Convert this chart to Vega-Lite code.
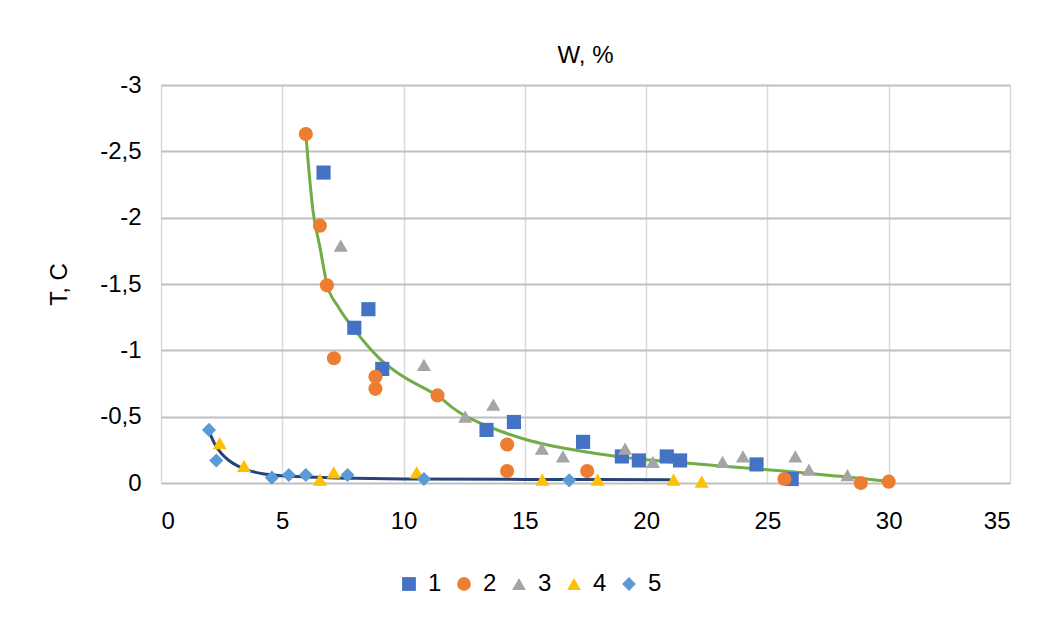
{
  "$schema": "https://vega.github.io/schema/vega-lite/v6.json",
  "width": 849,
  "height": 398,
  "autosize": {"type": "none"},
  "padding": {"left": 161, "top": 85, "right": 29, "bottom": 134},
  "background": "white",
  "config": {
    "font": "Liberation Sans",
    "view": {"stroke": null},
    "axis": {"labelFont": "Liberation Sans", "titleFont": "Liberation Sans", "labelColor": "#000000", "titleColor": "#000000", "titleFontWeight": "normal"}
  },
  "datasets": {
    "points": [
      {"series": "1", "w": 6.7, "t": -2.34},
      {"series": "1", "w": 8.55, "t": -1.31},
      {"series": "1", "w": 7.97, "t": -1.17},
      {"series": "1", "w": 9.12, "t": -0.86},
      {"series": "1", "w": 13.42, "t": -0.4},
      {"series": "1", "w": 14.55, "t": -0.46},
      {"series": "1", "w": 17.4, "t": -0.31},
      {"series": "1", "w": 19.0, "t": -0.2},
      {"series": "1", "w": 19.7, "t": -0.17},
      {"series": "1", "w": 20.85, "t": -0.2},
      {"series": "1", "w": 21.4, "t": -0.17},
      {"series": "1", "w": 24.55, "t": -0.14},
      {"series": "1", "w": 26.0, "t": -0.03},
      {"series": "2", "w": 5.97, "t": -2.63},
      {"series": "2", "w": 6.55, "t": -1.94},
      {"series": "2", "w": 6.84, "t": -1.49},
      {"series": "2", "w": 7.13, "t": -0.94},
      {"series": "2", "w": 8.84, "t": -0.8},
      {"series": "2", "w": 8.84, "t": -0.71},
      {"series": "2", "w": 11.4, "t": -0.66},
      {"series": "2", "w": 14.27, "t": -0.29},
      {"series": "2", "w": 14.27, "t": -0.09},
      {"series": "2", "w": 17.57, "t": -0.09},
      {"series": "2", "w": 25.7, "t": -0.03},
      {"series": "2", "w": 28.85, "t": 0.0},
      {"series": "2", "w": 30.0, "t": -0.01},
      {"series": "3", "w": 7.41, "t": -1.79},
      {"series": "3", "w": 10.84, "t": -0.89},
      {"series": "3", "w": 12.54, "t": -0.5},
      {"series": "3", "w": 13.7, "t": -0.59},
      {"series": "3", "w": 15.7, "t": -0.26},
      {"series": "3", "w": 16.57, "t": -0.2},
      {"series": "3", "w": 19.13, "t": -0.26},
      {"series": "3", "w": 20.28, "t": -0.16},
      {"series": "3", "w": 23.15, "t": -0.16},
      {"series": "3", "w": 23.99, "t": -0.2},
      {"series": "3", "w": 26.15, "t": -0.2},
      {"series": "3", "w": 26.71, "t": -0.1},
      {"series": "3", "w": 28.3, "t": -0.06},
      {"series": "4", "w": 2.42, "t": -0.3},
      {"series": "4", "w": 3.42, "t": -0.13},
      {"series": "4", "w": 6.55, "t": -0.025},
      {"series": "4", "w": 7.12, "t": -0.08},
      {"series": "4", "w": 10.54, "t": -0.08},
      {"series": "4", "w": 15.72, "t": -0.025},
      {"series": "4", "w": 18.0, "t": -0.025},
      {"series": "4", "w": 21.13, "t": -0.025},
      {"series": "4", "w": 22.29, "t": -0.01},
      {"series": "5", "w": 1.98, "t": -0.4},
      {"series": "5", "w": 2.28, "t": -0.17},
      {"series": "5", "w": 4.57, "t": -0.04},
      {"series": "5", "w": 5.27, "t": -0.06},
      {"series": "5", "w": 5.97, "t": -0.06},
      {"series": "5", "w": 7.69, "t": -0.06},
      {"series": "5", "w": 10.84, "t": -0.03},
      {"series": "5", "w": 16.83, "t": -0.02}
    ],
    "green": [
      {"w": 5.97, "t": -2.63},
      {"w": 6.1, "t": -2.35},
      {"w": 6.26, "t": -2.06},
      {"w": 6.55, "t": -1.78},
      {"w": 6.84, "t": -1.5},
      {"w": 7.3, "t": -1.33},
      {"w": 8.0, "t": -1.15},
      {"w": 9.0, "t": -0.94},
      {"w": 10.0, "t": -0.8},
      {"w": 11.0, "t": -0.7},
      {"w": 11.4, "t": -0.66},
      {"w": 12.0, "t": -0.57},
      {"w": 12.5, "t": -0.51},
      {"w": 13.0, "t": -0.465},
      {"w": 14.0, "t": -0.39},
      {"w": 15.0, "t": -0.33},
      {"w": 16.0, "t": -0.285},
      {"w": 17.0, "t": -0.25},
      {"w": 18.0, "t": -0.22},
      {"w": 19.0, "t": -0.195},
      {"w": 20.0, "t": -0.176},
      {"w": 22.0, "t": -0.145},
      {"w": 24.0, "t": -0.115},
      {"w": 25.0, "t": -0.1},
      {"w": 26.0, "t": -0.085},
      {"w": 28.0, "t": -0.05},
      {"w": 30.0, "t": -0.012}
    ],
    "navy": [
      {"w": 2.0, "t": -0.38},
      {"w": 2.2, "t": -0.3},
      {"w": 2.5, "t": -0.22},
      {"w": 2.8, "t": -0.17},
      {"w": 3.2, "t": -0.125},
      {"w": 3.6, "t": -0.095},
      {"w": 4.2, "t": -0.07},
      {"w": 5.0, "t": -0.055},
      {"w": 6.0, "t": -0.045},
      {"w": 8.0, "t": -0.035},
      {"w": 10.0, "t": -0.03},
      {"w": 15.0, "t": -0.027},
      {"w": 21.0, "t": -0.025}
    ]
  },
  "layer": [
    {
      "data": {"name": "green"},
      "mark": {"type": "line", "color": "#70AD47", "strokeWidth": 3, "interpolate": "monotone"},
      "encoding": {
        "x": {"field": "w", "type": "quantitative", "scale": {"domain": [0, 35], "nice": false}},
        "y": {"field": "t", "type": "quantitative", "scale": {"domain": [-3, 0], "reverse": true, "nice": false}}
      }
    },
    {
      "data": {"name": "navy"},
      "mark": {"type": "line", "color": "#264478", "strokeWidth": 3, "interpolate": "monotone"},
      "encoding": {
        "x": {"field": "w", "type": "quantitative"},
        "y": {"field": "t", "type": "quantitative"}
      }
    },
    {
      "data": {"name": "points"},
      "mark": {"type": "point", "filled": true, "opacity": 1, "size": 200},
      "encoding": {
        "x": {
          "field": "w", "type": "quantitative",
          "scale": {"domain": [0, 35], "nice": false},
          "axis": {
            "orient": "bottom", "title": null, "values": [0, 5, 10, 15, 20, 25, 30, 35],
            "labelFontSize": 24, "labelPadding": 26, "ticks": false, "domain": false,
            "grid": true, "gridColor": "#D9D9D9", "gridWidth": 1.5
          }
        },
        "y": {
          "field": "t", "type": "quantitative",
          "scale": {"domain": [-3, 0], "reverse": true, "nice": false},
          "axis": {
            "title": "T, C", "titleFontSize": 24, "titlePadding": 28,
            "values": [-3, -2.5, -2, -1.5, -1, -0.5, 0],
            "labelExpr": "replace(toString(datum.value), '.', ',')",
            "labelFontSize": 24, "labelPadding": 20, "ticks": false, "domain": false,
            "grid": true, "gridColor": "#BFBFBF", "gridWidth": 2
          }
        },
        "color": {
          "field": "series", "type": "nominal",
          "scale": {"domain": ["1", "2", "3", "4", "5"], "range": ["#4472C4", "#ED7D31", "#A5A5A5", "#FFC000", "#5B9BD5"]},
          "legend": {
            "title": null, "orient": "none", "direction": "horizontal", "legendX": 236, "legendY": 487,
            "labelFontSize": 24, "symbolSize": 190, "columnPadding": 10, "labelOffset": 7, "symbolOpacity": 1
          }
        },
        "shape": {
          "field": "series", "type": "nominal",
          "scale": {"domain": ["1", "2", "3", "4", "5"], "range": ["square", "circle", "triangle-up", "triangle-up", "diamond"]},
          "legend": null
        }
      }
    }
  ],
  "title": {"text": "W, %", "fontSize": 24, "fontWeight": "normal", "color": "#000000", "offset": 5, "font": "Liberation Sans"}
}
